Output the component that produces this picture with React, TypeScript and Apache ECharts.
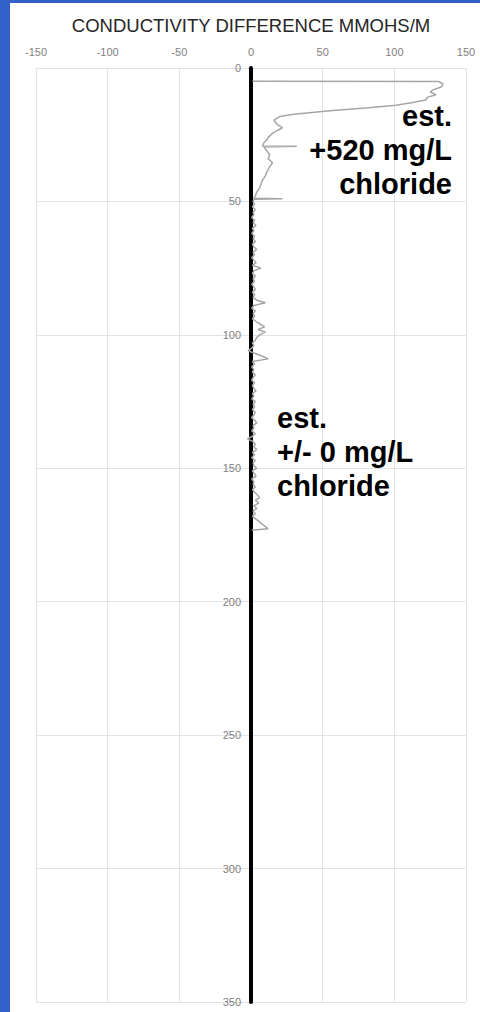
import React, { useEffect, useRef } from "react";
import * as echarts from "echarts";

const titleText = "CONDUCTIVITY DIFFERENCE MMOHS/M";
const xTicks = [-150, -100, -50, 0, 50, 100, 150];
const depthTicks = [0, 50, 100, 150, 200, 250, 300, 350];

// depth (ft) and conductivity difference (mmohs/m)
const depth = [
  5.0, 5.1, 6.0, 7.0, 8.2, 9.0, 10.0, 11.0, 12.0, 13.0, 14.0, 15.0, 16.0, 17.3, 18.2, 19.5,
  21.0, 22.4, 23.5, 24.5, 26.0, 27.0, 28.0, 29.2, 29.3, 29.6, 31.0, 32.5, 34.0, 35.5, 37.0,
  39.0, 40.5, 42.0, 43.5, 45.0, 46.5, 48.0, 48.8, 49.0, 49.2,
  50, 51, 52, 53, 54, 55, 56, 57, 58, 59, 60, 61, 62, 63, 64, 65, 66, 67, 68, 69,
  70, 71, 72, 73, 74, 75, 76, 77, 78, 79, 80, 81, 82, 83, 84, 85, 86, 87, 88, 89,
  90, 91, 92, 93, 94, 95, 96, 97, 98, 99, 100, 101, 102, 103, 104, 105, 106, 107, 108, 109,
  110, 111, 112, 113, 114, 115, 116, 117, 118, 119, 120, 121, 122, 123, 124, 125, 126, 127, 128, 129,
  130, 131, 132, 133, 134, 135, 136, 137, 138, 139, 140, 141, 142, 143, 144, 145, 146, 147, 148, 149,
  150, 151, 152, 153, 154, 155, 156, 157, 158, 159, 160, 161, 162, 163, 164, 165, 166, 167, 168,
  172.7, 173.2,
];
const conductivity = [
  1, 131, 134, 133, 127, 125, 129, 123, 122, 112, 101, 80, 55, 30, 20, 16,
  18, 22, 18, 15, 12, 11, 9, 8, 32, 9, 11, 13, 12, 15, 13,
  11, 10, 8, 7, 6, 4, 3, 2, 22, 2,
  1.5, 2.5, 1.0, 3.0, 1.5, 2.0, 0.5, 2.5, 1.5, 3.5, 1.0, 2.0, 0.5, 2.5, 1.5, 3.0, 1.0, 2.0, 4.0, 1.5,
  2.5, 0.5, 2.0, 3.5, 1.0, 7.0, 2.0, 1.0, 3.0, 1.5, 2.5, 0.5, 2.0, 3.0, 1.0, 2.5, 1.5, 4.0, 10.0, 2.0,
  0.5, 3.0, 1.5, 2.5, 1.0, 3.5, 6.5, 9.5, 5.0, 10.0, 6.0, 4.0, 3.0, 1.0, 2.0, 0.5, -2.0, 3.0, 8.0, 12.0,
  1.0, 2.5, 0.5, 2.0, 1.0, 3.0, 1.5, 0.5, 2.5, 1.0, 2.0, 3.5, 1.0, 2.0, 0.5, 3.0, 1.5, 2.5, 1.0, 3.0,
  2.0, 0.5, 2.5, 4.0, 1.5, 2.0, 0.5, 3.0, 1.0, -2.5, 1.5, 3.0, 2.0, 4.0, 1.0, 2.5, 0.5, 3.0, 1.5, 2.0,
  4.0, 1.0, 2.5, 3.5, 0.5, 2.0, 1.5, 3.0, 1.0, 2.5, 4.5, 6.0, 3.0, 5.5, 2.0, 4.0, 1.5, 3.0, 1.0,
  12.0, 0.5,
];

const upperNote = "est.\n+520 mg/L\nchloride";
const lowerNote = "est.\n+/- 0 mg/L\nchloride";

export default function App() {
  const ref = useRef<HTMLDivElement>(null);
  useEffect(() => {
    if (!ref.current) return;
    const chart = echarts.init(ref.current, undefined, { renderer: "svg" });
    const pairs = depth.map((d, i) => [conductivity[i], d]);
    const labelFont = { color: "#7f7f7f", fontSize: 11, fontFamily: "Liberation Sans" };
    chart.setOption({
      animation: false,
      backgroundColor: "#ffffff",
      grid: { left: 36, right: 14, top: 68, bottom: 10, containLabel: false },
      xAxis: {
        type: "value",
        position: "top",
        min: xTicks[0],
        max: xTicks[xTicks.length - 1],
        interval: 50,
        axisLine: { show: false },
        axisTick: { show: false },
        axisLabel: { ...labelFont, margin: 11 },
        splitLine: { show: true, lineStyle: { color: "#e3e3e3", width: 1 } },
      },
      yAxis: {
        type: "value",
        inverse: true,
        min: depthTicks[0],
        max: depthTicks[depthTicks.length - 1],
        interval: 50,
        axisLine: { show: true, onZero: true, lineStyle: { color: "#000000", width: 4 } },
        axisTick: { show: false },
        axisLabel: { ...labelFont, margin: -205 },
        splitLine: { show: true, lineStyle: { color: "#e3e3e3", width: 1 } },
      },
      series: [
        {
          type: "line",
          data: pairs,
          showSymbol: false,
          symbol: "none",
          lineStyle: { color: "#a6a6a6", width: 1.5 },
          z: 3,
        },
      ],
      graphic: [
        { type: "rect", shape: { x: 0, y: 0, width: 10, height: 1012 }, style: { fill: "#3060c8" }, z: 100 },
        { type: "rect", shape: { x: 0, y: 0, width: 480, height: 3 }, style: { fill: "#3060c8" }, z: 100 },
        {
          type: "text",
          x: 251,
          y: 25,
          z: 50,
          style: {
            text: titleText,
            fill: "#262626",
            font: '18.5px "Liberation Sans"',
            align: "center",
            verticalAlign: "middle",
          },
        },
        {
          type: "text",
          x: 452,
          y: 99,
          z: 50,
          style: {
            text: upperNote,
            fill: "#000000",
            font: 'bold 29px "Liberation Sans"',
            align: "right",
            verticalAlign: "top",
            lineHeight: 34,
          },
        },
        {
          type: "text",
          x: 277,
          y: 401,
          z: 50,
          style: {
            text: lowerNote,
            fill: "#000000",
            font: 'bold 29px "Liberation Sans"',
            align: "left",
            verticalAlign: "top",
            lineHeight: 34,
          },
        },
      ],
    });
    return () => chart.dispose();
  }, []);
  return (
    <div
      ref={ref}
      style={{ position: "absolute", left: 0, top: 0, width: 480, height: 1012, background: "#fff" }}
    />
  );
}
